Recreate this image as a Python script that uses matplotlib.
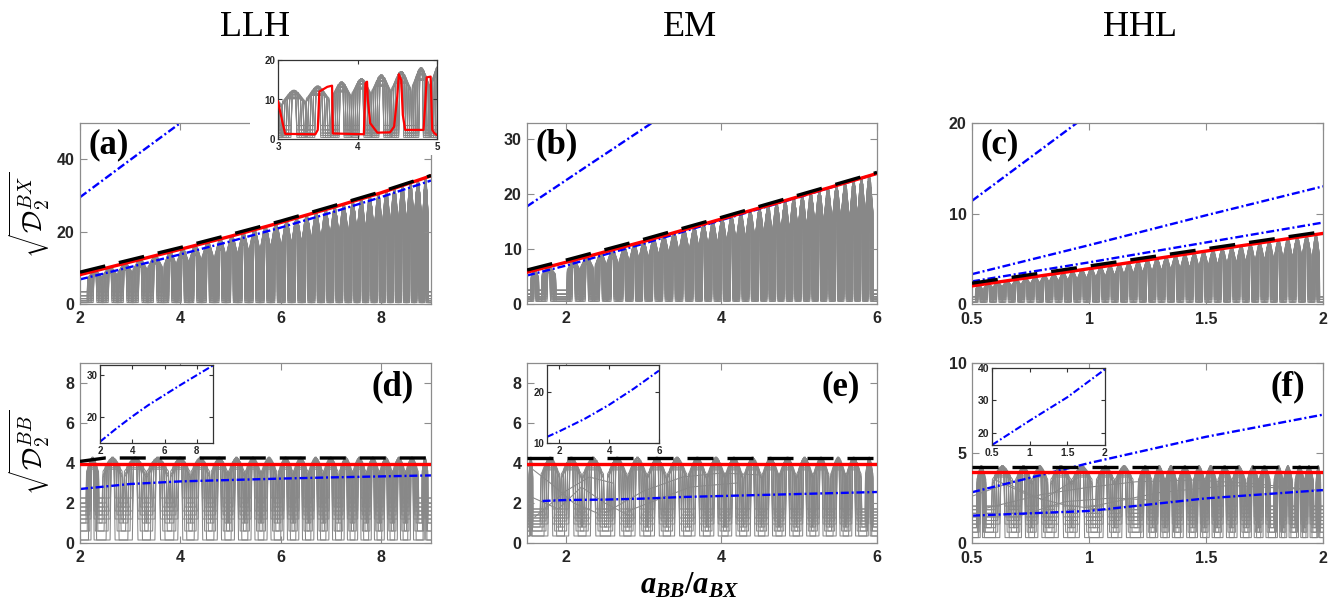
import numpy as np
import matplotlib
matplotlib.use("Agg")
import matplotlib.pyplot as plt
from matplotlib.patches import Rectangle

# ---------------------------------------------------------------- data
# Top row: sqrt(D2^BX) versus a_BB/a_BX
llh_x = [2, 3, 4, 5, 6, 7, 8, 9]
llh_bx_black = [8.8, 12.2, 15.6, 19.2, 22.9, 26.9, 31.0, 35.5]
llh_bx_red = [8.1, 11.6, 15.1, 18.7, 22.5, 26.5, 30.7, 35.4]
llh_bx_blue = [6.8, 10.2, 13.7, 17.3, 21.1, 25.2, 29.5, 34.1]
llh_bx_blue_hi_x = [2, 3, 4.05]
llh_bx_blue_hi = [29.5, 39.8, 50.5]
llh_bx_spikes = [2.3, 2.6, 2.9, 3.2, 3.5, 3.8, 4.05, 4.3, 4.55, 4.8, 5.03, 5.26,
                 5.48, 5.7, 5.91, 6.12, 6.32, 6.52, 6.71, 6.9, 7.08, 7.26, 7.44,
                 7.61, 7.78, 7.95, 8.11, 8.27, 8.43, 8.59, 8.74, 8.89]
llh_bx_levels = [0.4, 0.9, 1.5, 2.3, 3.4]

# highlighted level in the LLH zoom
llh_zoom_x = [3.0, 3.05, 3.09, 3.47, 3.5, 3.52, 3.62, 3.68, 3.69, 4.08, 4.1, 4.12,
              4.13, 4.16, 4.25, 4.41, 4.46, 4.5, 4.52, 4.55, 4.57, 4.6, 4.83,
              4.85, 4.87, 4.92, 4.94, 4.97, 5.0]
llh_zoom_y = [9.5, 4.8, 1.3, 1.2, 2.3, 12.0, 13.2, 13.5, 1.4, 1.2, 14.1, 14.5,
              9.9, 4.0, 1.6, 1.7, 3.1, 10.7, 16.4, 14.9, 6.1, 2.3, 2.3,
              8.2, 15.6, 15.8, 2.3, 1.4, 1.0]

em_x = [1.5, 2, 3, 4, 5, 6]
em_bx_black = [6.2, 8.0, 11.8, 15.8, 19.9, 24.0]
em_bx_red = [5.8, 7.6, 11.4, 15.5, 19.6, 23.8]
em_bx_blue = [5.2, 7.0, 11.0, 15.3, 19.5, 23.8]
em_bx_blue_hi_x = [1.5, 2.3, 3.2]
em_bx_blue_hi = [17.8, 25.4, 33.9]
em_bx_spikes = [1.6, 1.78, 2.1, 2.27, 2.45, 2.6, 2.75, 2.88, 3.0, 3.13, 3.26, 3.39,
                3.52, 3.65, 3.77, 3.89, 4.01, 4.13, 4.25, 4.37, 4.49, 4.6, 4.71,
                4.82, 4.93, 5.04, 5.15, 5.26, 5.37, 5.48, 5.59, 5.7, 5.8, 5.9]
em_bx_levels = [0.5, 0.9, 1.3, 1.8, 2.5]

hhl_x = [0.5, 1.0, 1.5, 2.0]
hhl_bx_black = [2.3, 4.2, 6.1, 8.0]
hhl_bx_red = [2.0, 3.9, 5.85, 7.8]
hhl_bx_blue1_x = [0.5, 0.75, 1.0]
hhl_bx_blue1 = [11.4, 16.2, 21.0]
hhl_bx_blue2 = [3.3, 6.5, 9.8, 13.0]
hhl_bx_blue3 = [2.5, 4.6, 6.8, 9.0]
hhl_bx_spikes = [0.53, 0.57, 0.61, 0.65, 0.69, 0.73, 0.77, 0.81, 0.85, 0.89, 0.93,
                 0.97, 1.01, 1.05, 1.09, 1.13, 1.17, 1.21, 1.25, 1.29, 1.33, 1.37,
                 1.41, 1.45, 1.49, 1.53, 1.57, 1.61, 1.65, 1.69, 1.73, 1.77, 1.81,
                 1.85, 1.89, 1.93, 1.97]
hhl_bx_levels = [0.2, 0.5, 0.8]

# Bottom row: sqrt(D2^BB) versus a_BB/a_BX
llh_bb_black_x = [2, 2.5, 9]
llh_bb_black = [4.08, 4.25, 4.25]
llh_bb_red = [3.97, 3.97]
llh_bb_blue = [2.7, 2.95, 3.08, 3.15, 3.22, 3.28, 3.33, 3.38]
llh_bb_inset = [14.2, 17.3, 20.2, 22.9, 25.3, 27.7, 30.0, 32.3]
llh_bb_spikes = [2.25, 2.65, 3.1, 3.55, 4.0, 4.4, 4.78, 5.12, 5.45, 5.77, 6.1, 6.4,
                 6.7, 7.0, 7.3, 7.57, 7.84, 8.1, 8.36, 8.62, 8.88]
llh_bb_levels = [0.15, 0.6, 1.0, 1.2, 1.4, 1.6, 1.8, 2.0, 2.25]

em_bb_black = [4.25, 4.25]
em_bb_red = [3.97, 3.97]
em_bb_blue_x = [1.7, 2, 2.5, 3, 3.5, 4, 4.5, 5, 5.5, 6]
em_bb_blue = [2.1, 2.15, 2.17, 2.22, 2.3, 2.35, 2.4, 2.45, 2.5, 2.55]
em_bb_inset = [11.2, 12.3, 14.7, 17.5, 20.7, 24.2]
em_bb_spikes = [1.55, 1.8, 2.07, 2.35, 2.66, 2.92, 3.17, 3.43, 3.69, 3.93, 4.16,
                4.4, 4.63, 4.85, 5.07, 5.28, 5.5, 5.7, 5.9]
em_bb_levels = [0.35, 0.6, 0.8, 0.95, 1.1, 1.25, 1.4, 1.55, 1.7]
em_bb_arcs = [
    ([1.5, 1.8, 2.1, 2.4], [3.9, 3.0, 2.0, 1.5]),
    ([1.6, 2.0, 2.3, 2.6], [1.3, 2.6, 3.3, 3.0]),
    ([2.5, 3.0, 3.5, 4.0, 4.5], [1.5, 2.6, 3.3, 3.5, 3.4]),
    ([2.8, 3.2, 3.6, 4.2], [1.6, 2.2, 2.8, 3.0]),
    ([1.5, 1.9, 2.2, 2.5, 2.8], [2.4, 1.7, 2.8, 2.0, 1.4]),
]

hhl_bb_black = [4.24, 4.24]
hhl_bb_red = [3.93, 3.93]
hhl_bb_blue_hi = [2.82, 4.44, 5.9, 7.13]
hhl_bb_blue_lo = [1.52, 1.78, 2.48, 2.94]
hhl_bb_inset = [16.3, 23.8, 31.0, 39.6]
hhl_bb_spikes = [0.54, 0.63, 0.72, 0.79, 0.88, 0.97, 1.07, 1.15, 1.24, 1.3, 1.35,
                 1.41, 1.47, 1.52, 1.58, 1.64, 1.7, 1.75, 1.81, 1.85, 1.9, 1.94, 1.98]
hhl_bb_levels = [0.3, 0.6, 0.85, 1.05, 1.25, 1.45, 1.65, 1.85, 2.05]
hhl_bb_arcs = [
    ([0.55, 0.8, 1.0, 1.2, 1.45, 1.7, 2.0], [1.9, 2.7, 3.1, 3.4, 3.5, 3.3, 2.9]),
    ([0.6, 0.75, 0.9, 1.1], [3.5, 2.6, 2.1, 1.8]),
    ([1.0, 1.3, 1.6, 1.9], [2.0, 2.8, 3.2, 3.0]),
    ([0.7, 0.9, 1.1, 1.4], [1.5, 2.3, 2.5, 2.3]),
    ([0.5, 0.65, 0.8, 0.95], [2.6, 3.3, 2.4, 3.6]),
]

# loop geometry of the gray level curves (fraction of half-spacing, top drop)
loop_widths = [0.15, 0.35, 0.55, 0.75, 0.95]
loop_drops = [0.0, 0.02, 0.05, 0.1, 0.18]

# ---------------------------------------------------------------- style
GRAY = "#888888"
SPINE = "#8c8c8c"
TXT = "#262626"
BLUE = "#0000ff"
RED = "#ff0000"

plt.rcParams["font.family"] = ["Liberation Sans", "DejaVu Sans"]
plt.rcParams["mathtext.fontset"] = "custom"
plt.rcParams["mathtext.it"] = "Liberation Serif:italic:bold"
plt.rcParams["mathtext.rm"] = "Liberation Serif:bold"
plt.rcParams["mathtext.bf"] = "Liberation Serif:bold"

fig = plt.figure(figsize=(13.33, 6.03), dpi=100)


def level_curves(spikes, levels, x0, x1, top_x, top_y, per_level=None):
    """Gray level curves: flat runs at each base level, looping up to the
    upper bound around every avoided-crossing position."""
    sp = np.asarray(spikes, float)
    edges = np.concatenate([[x0], sp, [x1]])
    gaps = np.diff(edges)
    half = np.minimum(gaps[:-1], gaps[1:]) / 2
    tops = np.interp(sp, top_x, top_y)
    n = len(loop_widths)
    curves = []
    for i, b in enumerate(levels):
        if per_level is None:
            picks = range(n)
        else:
            picks = [(i + 2 * k) % n for k in range(per_level)]
        for p in picks:
            f, d = loop_widths[p], loop_drops[p]
            xs, ys = [x0], [b]
            for xk, hk, tk in zip(sp, half, tops):
                t = b + (tk - b) * (1 - d)
                w = f * hk
                s = 0.1 * hk
                xs += [xk - w - s, xk - w, xk - 0.6 * w, xk + 0.6 * w, xk + w, xk + w + s]
                ys += [b, b + 0.85 * (t - b), t, t, b + 0.85 * (t - b), b]
            xs.append(x1)
            ys.append(b)
            curves.append((xs, ys))
    return curves


def draw_gray(ax, curves, lw=0.75):
    for xs, ys in curves:
        ax.plot(xs, ys, color=GRAY, lw=lw, zorder=1)


def black_dash(ax, x, y):
    ax.plot(x, y, color="black", lw=2.4, dashes=(7.8, 4.2),
            dash_capstyle="butt", zorder=4)


def red_line(ax, x, y, lw=2.4):
    ax.plot(x, y, color=RED, lw=lw, zorder=3)


def blue_dashdot(ax, x, y, lw=1.7):
    ax.plot(x, y, color=BLUE, lw=lw, dashes=(3.4, 1.2, 0.85, 1.2), zorder=2.5)


def style(ax, xlim, ylim, xticks, yticks, xlabels=None, size=11.5,
          length=5, spine=SPINE, pad=4, xpad=None):
    ax.set_xlim(xlim)
    ax.set_ylim(ylim)
    ax.set_xticks(xticks)
    ax.set_yticks(yticks)
    if xlabels is None:
        xlabels = [f"{t:g}" for t in xticks]
    ax.set_xticklabels(xlabels, fontweight="bold")
    ax.set_yticklabels([f"{t:g}" for t in yticks], fontweight="bold")
    ax.tick_params(direction="in", top=True, right=True, length=length,
                   width=0.8, color=spine, labelcolor=TXT, labelsize=size, pad=pad)
    ax.tick_params(axis="x", pad=xpad if xpad is not None else pad)
    for s in ax.spines.values():
        s.set_color(spine)
        s.set_linewidth(0.9)


def panel_label(ax, text, right=False):
    if right:
        ax.text(0.95, 0.96, text, transform=ax.transAxes, ha="right", va="top",
                family="Liberation Serif", fontweight="bold", fontsize=25, zorder=6)
    else:
        ax.text(0.025, 0.97, text, transform=ax.transAxes, ha="left", va="top",
                family="Liberation Serif", fontweight="bold", fontsize=25, zorder=6)


W = 1333.0
H = 603.0


def px_axes(left, top, right, bottom, **kw):
    return fig.add_axes([left / W, 1 - bottom / H, (right - left) / W, (bottom - top) / H], **kw)


cols = [(80, 431), (527, 877), (972, 1323)]
top_row = (123, 304)
bot_row = (363, 543)

# ---------------------------------------------------------------- (a)
ax = px_axes(cols[0][0], top_row[0], cols[0][1], top_row[1])
gray_a = level_curves(llh_bx_spikes, llh_bx_levels, 2, 9, llh_x, llh_bx_red)
draw_gray(ax, gray_a)
blue_dashdot(ax, llh_x, llh_bx_blue)
blue_dashdot(ax, llh_bx_blue_hi_x, llh_bx_blue_hi)
red_line(ax, llh_x, llh_bx_red)
black_dash(ax, llh_x, llh_bx_black)
style(ax, (2, 9), (0, 50), [2, 4, 6, 8], [0, 20, 40], xpad=5)
panel_label(ax, "(a)")

# blank band behind the zoom panel
fig.add_artist(Rectangle((250 / W, 1 - 155 / H), 200 / W, 125 / H,
                         transform=fig.transFigure, facecolor="white",
                         edgecolor="none", zorder=1.5))
axi = px_axes(278, 60, 437, 139, zorder=3)
draw_gray(axi, gray_a, lw=0.7)
axi.plot(llh_zoom_x, llh_zoom_y, color=RED, lw=1.6, zorder=3)
style(axi, (3, 5), (0, 20), [3, 4, 5], [0, 10, 20], size=7, length=3,
      spine="#333333", pad=2)

# ---------------------------------------------------------------- (b)
ax = px_axes(cols[1][0], top_row[0], cols[1][1], top_row[1])
draw_gray(ax, level_curves(em_bx_spikes, em_bx_levels, 1.5, 6, em_x, em_bx_red))
blue_dashdot(ax, em_x, em_bx_blue)
blue_dashdot(ax, em_bx_blue_hi_x, em_bx_blue_hi)
red_line(ax, em_x, em_bx_red)
black_dash(ax, em_x, em_bx_black)
style(ax, (1.5, 6), (0, 33), [2, 4, 6], [0, 10, 20, 30], xpad=5)
panel_label(ax, "(b)")

# ---------------------------------------------------------------- (c)
ax = px_axes(cols[2][0], top_row[0], cols[2][1], top_row[1])
draw_gray(ax, level_curves(hhl_bx_spikes, hhl_bx_levels, 0.5, 2, hhl_x, hhl_bx_red))
blue_dashdot(ax, hhl_bx_blue1_x, hhl_bx_blue1)
blue_dashdot(ax, hhl_x, hhl_bx_blue2)
blue_dashdot(ax, hhl_x, hhl_bx_blue3)
red_line(ax, hhl_x, hhl_bx_red)
black_dash(ax, hhl_x, hhl_bx_black)
style(ax, (0.5, 2), (0, 20), [0.5, 1, 1.5, 2], [0, 10, 20],
      xlabels=["0.5", "1", "1.5", "2"], xpad=6)
panel_label(ax, "(c)")

# ---------------------------------------------------------------- (d)
ax = px_axes(cols[0][0], bot_row[0], cols[0][1], bot_row[1])
draw_gray(ax, level_curves(llh_bb_spikes, llh_bb_levels, 2, 9, [2, 9], [4.28, 4.28],
                           per_level=2))
blue_dashdot(ax, llh_x, llh_bb_blue)
red_line(ax, [2, 9], llh_bb_red)
black_dash(ax, llh_bb_black_x, llh_bb_black)
style(ax, (2, 9), (0, 9), [2, 4, 6, 8], [0, 2, 4, 6, 8], xpad=5)
panel_label(ax, "(d)", right=True)
axi = px_axes(100, 365, 213, 443, zorder=3)
blue_dashdot(axi, llh_x, llh_bb_inset, lw=1.5)
style(axi, (2, 9), (min(llh_bb_inset) - 0.3, max(llh_bb_inset) + 0.1),
      [2, 4, 6, 8], [20, 30], size=7, length=3, spine="#333333", pad=2)

# ---------------------------------------------------------------- (e)
ax = px_axes(cols[1][0], bot_row[0], cols[1][1], bot_row[1])
draw_gray(ax, level_curves(em_bb_spikes, em_bb_levels, 1.5, 6, [1.5, 6], [4.28, 4.28],
                           per_level=2))
for xs, ys in em_bb_arcs:
    ax.plot(xs, ys, color=GRAY, lw=0.75, zorder=1)
blue_dashdot(ax, em_bb_blue_x, em_bb_blue)
red_line(ax, [1.5, 6], em_bb_red)
black_dash(ax, [1.5, 6], em_bb_black)
style(ax, (1.5, 6), (0, 9), [2, 4, 6], [0, 2, 4, 6, 8], xpad=5)
panel_label(ax, "(e)", right=True)
axi = px_axes(547, 365, 659, 443, zorder=3)
blue_dashdot(axi, em_x, em_bb_inset, lw=1.5)
style(axi, (1.5, 6), (10, 25.3), [2, 4, 6], [10, 20], size=7, length=3,
      spine="#333333", pad=2)

# ---------------------------------------------------------------- (f)
ax = px_axes(cols[2][0], bot_row[0], cols[2][1], bot_row[1])
draw_gray(ax, level_curves(hhl_bb_spikes, hhl_bb_levels, 0.5, 2, [0.5, 2], [4.28, 4.28],
                           per_level=2))
for xs, ys in hhl_bb_arcs:
    ax.plot(xs, ys, color=GRAY, lw=0.75, zorder=1)
blue_dashdot(ax, hhl_x, hhl_bb_blue_hi)
blue_dashdot(ax, hhl_x, hhl_bb_blue_lo)
red_line(ax, [0.5, 2], hhl_bb_red)
black_dash(ax, [0.5, 2], hhl_bb_black)
style(ax, (0.5, 2), (0, 10), [0.5, 1, 1.5, 2], [0, 5, 10],
      xlabels=["0.5", "1", "1.5", "2"], xpad=6)
panel_label(ax, "(f)", right=True)
axi = px_axes(992, 368, 1105, 445, zorder=3)
blue_dashdot(axi, hhl_x, hhl_bb_inset, lw=1.5)
style(axi, (0.5, 2), (16.3, 40), [0.5, 1, 1.5, 2], [20, 30, 40],
      xlabels=["0.5", "1", "1.5", "2"], size=7.5, length=3, spine="#333333", pad=2)

# ---------------------------------------------------------------- labels
for xc, name in [(255, "LLH"), (690, "EM"), (1140, "HHL")]:
    fig.text(xc / W, 1 - 28 / H, name, ha="center", va="center",
             family="Liberation Serif", fontsize=26, color="black")

fig.text(29 / W, 1 - 215 / H, r"$\sqrt{\mathcal{D}_2^{BX}}$", rotation=90,
         ha="center", va="center", fontsize=20, math_fontfamily="cm")
fig.text(29 / W, 1 - 452 / H, r"$\sqrt{\mathcal{D}_2^{BB}}$", rotation=90,
         ha="center", va="center", fontsize=20, math_fontfamily="cm")
fig.text(690 / W, 1 - 585 / H, r"$a_{BB}/a_{BX}$", ha="center", va="center",
         fontsize=22, math_fontfamily="custom")

fig.savefig("out.png", dpi=100, facecolor="white")
